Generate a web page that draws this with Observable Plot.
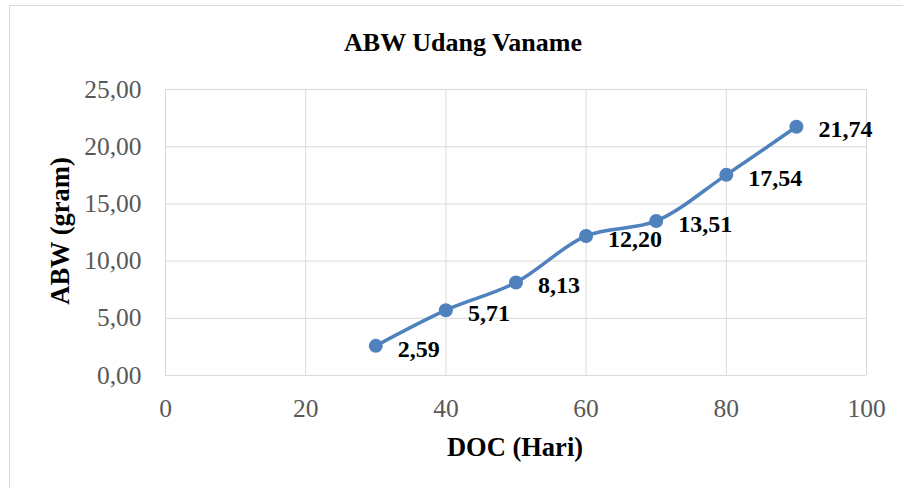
<!DOCTYPE html>
<html>
<head>
<meta charset="utf-8">
<script src="https://cdn.jsdelivr.net/npm/d3@7"></script>
<script src="https://cdn.jsdelivr.net/npm/@observablehq/plot@0.6"></script>
<style>
  html, body { margin: 0; padding: 0; background: #fff; font-family: "Liberation Serif", serif; }
  #wrap { position: relative; width: 903px; height: 488px; overflow: hidden; }
  #border { position: absolute; left: 9px; top: 5px; width: 1200px; height: 1200px; border: 1px solid #d9d9d9; box-sizing: border-box; }
  #chart { position: absolute; left: 0; top: 0; }
  .ttl { position: absolute; font-family: "Liberation Serif", serif; font-weight: bold; color: #000; line-height: 1; white-space: nowrap; transform: translate(-50%, -50%); }
  #title { left: 463px; top: 43px; font-size: 26px; }
  #xtitle { left: 515px; top: 447px; font-size: 26.5px; }
  #ytitle { left: 60px; top: 231px; font-size: 26.5px; transform: translate(-50%, -50%) rotate(-90deg); }
</style>
</head>
<body>
<div id="wrap">
  <div id="border"></div>
  <div id="chart"></div>
  <div class="ttl" id="title">ABW Udang Vaname</div>
  <div class="ttl" id="xtitle">DOC (Hari)</div>
  <div class="ttl" id="ytitle">ABW (gram)</div>
</div>
<script>
const doc = [30, 40, 50, 60, 70, 80, 90];
const abw = [2.59, 5.71, 8.13, 12.20, 13.51, 17.54, 21.74];
const xTicks = [0, 20, 40, 60, 80, 100];
const yTicks = [0, 5, 10, 15, 20, 25];

const data = doc.map((d, i) => ({doc: d, abw: abw[i]}));
const fmt = v => v.toFixed(2).replace(".", ",");
const serif = "Liberation Serif";

const chart = Plot.plot({
  width: 903,
  height: 488,
  marginLeft: 165,
  marginRight: 37,
  marginTop: 89,
  marginBottom: 113,
  style: "font-family: 'Liberation Serif', serif;",
  x: {domain: [0, 100], ticks: xTicks},
  y: {domain: [0, 25], ticks: yTicks},
  marks: [
    Plot.gridX(xTicks, {stroke: "#d9d9d9", strokeOpacity: 1, strokeWidth: 1}),
    Plot.gridY(yTicks, {stroke: "#d9d9d9", strokeOpacity: 1, strokeWidth: 1}),
    Plot.axisX(xTicks, {tickSize: 0, tickPadding: 23, fontSize: 25.5, fontFamily: serif, fill: "#595959", label: null}),
    Plot.axisY(yTicks, {tickSize: 0, tickPadding: 24, fontSize: 25.5, fontFamily: serif, fill: "#595959", label: null, tickFormat: fmt}),
    Plot.line(data, {x: "doc", y: "abw", stroke: "#4f81bd", strokeWidth: 3.5, curve: "catmull-rom"}),
    Plot.dot(data, {x: "doc", y: "abw", r: 7, fill: "#4f81bd", stroke: "none"}),
    Plot.text(data, {x: "doc", y: "abw", text: d => fmt(d.abw), dx: 22, dy: 3, textAnchor: "start", lineAnchor: "middle", fontSize: 24, fontWeight: "bold", fontFamily: serif, fill: "#000"})
  ]
});
document.getElementById("chart").appendChild(chart);
</script>
</body>
</html>
